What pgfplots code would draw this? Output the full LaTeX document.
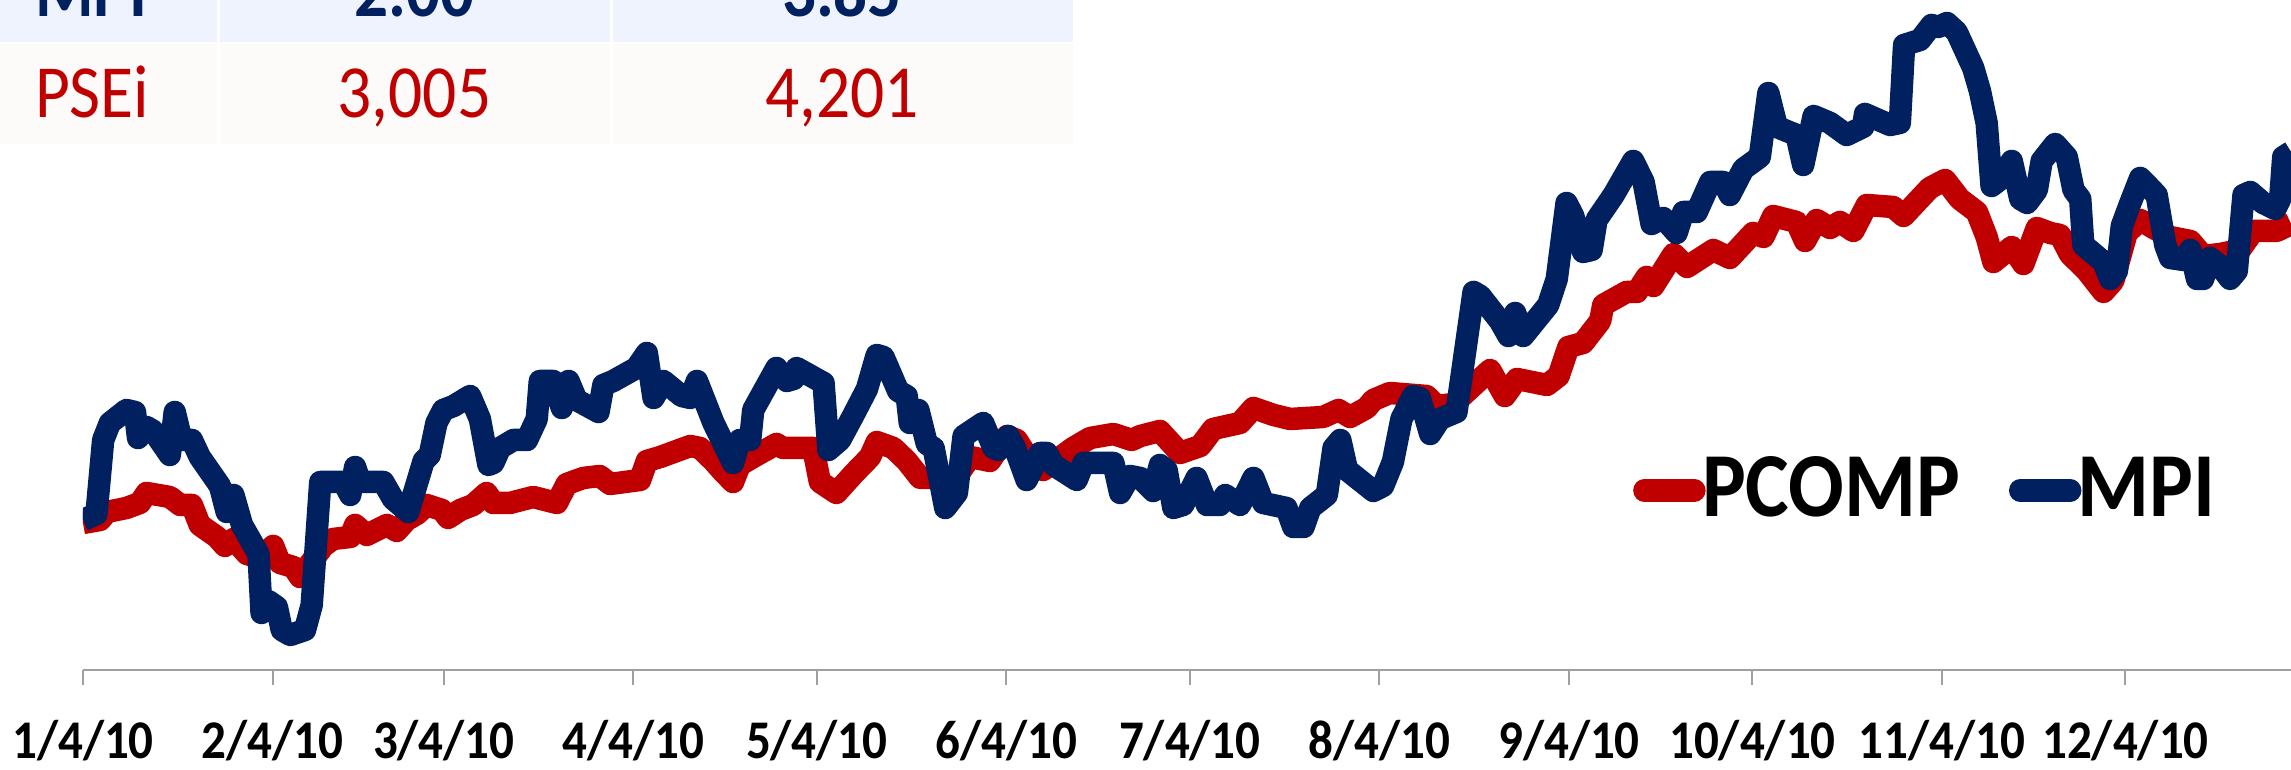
\documentclass[border=0pt]{standalone}
\usepackage{fontspec}
\setmainfont{Carlito}[FakeStretch=0.9]
\usepackage{pgfplots}
\pgfplotsset{compat=1.18}
\definecolor{pcompred}{RGB}{192,0,0}
\definecolor{mpinavy}{RGB}{0,32,96}
\definecolor{axisgray}{RGB}{160,160,160}
\definecolor{rowblue}{RGB}{238,243,254}
\definecolor{rowwhite}{RGB}{252,251,249}

\begin{document}
\begin{tikzpicture}
\useasboundingbox (0,0) rectangle (458.2pt,154pt);
\clip (0,0) rectangle (458.2pt,154pt);

% summary table (top row is cut off by the picture edge)
\fill[rowblue] (0pt,145.6pt) rectangle (43.4pt,160pt);
\fill[rowblue] (43.9pt,145.6pt) rectangle (122.0pt,160pt);
\fill[rowblue] (122.5pt,145.6pt) rectangle (214.6pt,160pt);
\fill[rowwhite] (0pt,125.2pt) rectangle (43.4pt,145.2pt);
\fill[rowwhite] (43.9pt,125.2pt) rectangle (122.0pt,145.2pt);
\fill[rowwhite] (122.5pt,125.2pt) rectangle (214.6pt,145.2pt);
\begin{scope}[every node/.style={inner sep=0pt}]
  \node[anchor=base west,font=\fontsize{14.9}{17}\selectfont\bfseries,text=mpinavy] at (6.8pt,150.6pt) {MPI};
  \node[anchor=base,font=\fontsize{14.9}{17}\selectfont\bfseries,text=mpinavy] at (82.9pt,150.6pt) {2.00};
  \node[anchor=base,font=\fontsize{14.9}{17}\selectfont\bfseries,text=mpinavy] at (168.4pt,150.6pt) {3.85};
  \node[anchor=base west,font=\fontsize{15}{17}\selectfont,text=pcompred] at (6.8pt,130.4pt) {PSEi};
  \node[anchor=base,font=\fontsize{15}{17}\selectfont,text=pcompred] at (82.9pt,130.4pt) {3,005};
  \node[anchor=base,font=\fontsize{15}{17}\selectfont,text=pcompred] at (168.4pt,130.4pt) {4,201};
\end{scope}

\begin{axis}[
  at={(16.6pt,20pt)},
  anchor=south west,
  scale only axis,
  width=441.6pt,
  height=134pt,
  xmin=0, xmax=361.07,
  ymin=100, ymax=770,
  axis x line=bottom,
  axis y line=none,
  x axis line style={-,draw=axisgray,line width=0.5pt},
  tick align=outside,
  major tick length=3pt,
  tick style={axisgray,line width=0.4pt},
  xtick={0,31,59,90,120,151,181,212,243,273,304,334},
  xticklabels={1/4/10,2/4/10,3/4/10,4/4/10,5/4/10,6/4/10,7/4/10,8/4/10,9/4/10,10/4/10,11/4/10,12/4/10},
  xticklabel style={font=\fontsize{10.9}{12}\selectfont\bfseries,anchor=base,yshift=-14.8pt},
  ytick=\empty,
  legend image code/.code={\draw[#1,line cap=round] (0pt,0pt) -- (10pt,0pt);},
  legend columns=-1,
  legend style={
    at={(0.7016,0.268)},
    anchor=west,
    draw=none,
    fill=none,
    inner sep=0pt,
    nodes={inner sep=0pt},
    font=\fontsize{18.3}{21}\selectfont\bfseries,
    /tikz/every odd column/.append style={column sep=-0.7pt},
    /tikz/every even column/.append style={column sep=9.7pt},
  },
]
% days since 4 Jan 2010 vs. chart height (no y scale is shown)
\addplot[pcompred,line width=4.5pt,line join=round] coordinates {
(0,247) (2.8,250) (3.9,258) (7.1,262) (9.3,267) (10.4,277) (14.2,273) (15.9,265)
(17.8,265) (19.1,245) (21.9,233) (23.2,224) (24.6,231) (26.8,216) (28.9,212) (31.1,224)
(32.2,207) (34.4,203) (35.5,193) (39.3,224) (40.9,231) (43.7,233) (44.5,245) (46.4,235)
(49.7,245) (51.3,239) (52.9,250) (54.6,256) (56.2,265) (58.7,260) (59.7,252) (61.7,260)
(63.8,265) (66.0,277) (67.1,267) (69.8,267) (73.6,273) (77.5,267) (79.1,286) (81.8,292)
(84.5,294) (86.2,286) (91.1,290) (92.2,309) (94.4,313) (99.3,324) (100.9,322) (103.1,309)
(104.7,298) (106.3,288) (107.4,305) (109.6,313) (113.4,326) (114.5,322) (119.4,322) (120.5,288)
(123.2,277) (126.0,296) (128.7,313) (129.8,328) (132.5,322) (134.7,309) (136.9,292) (139.1,292)
(141.8,284) (145.1,313) (148.3,309) (151.1,334) (152.7,330) (154.9,309) (157.0,300) (161.9,322)
(164.7,332) (168.5,336) (171.5,330) (172.9,334) (176.1,339) (179.4,317) (182.7,324) (184.8,341)
(189.2,347) (191.4,362) (194.7,355) (197.4,351) (202.8,353) (205.3,360) (207.2,353) (209.9,362)
(211.0,370) (213.7,377) (219.7,374) (221.4,364) (224.1,366) (230.1,400) (232.5,374) (234.5,391)
(239.4,385) (241.3,394) (242.9,423) (245.3,427) (248.1,449) (248.6,465) (252.4,478) (254.1,478)
(255.7,493) (256.8,484) (260.1,516) (262.3,503) (266.6,520) (269.3,512) (273.1,537) (274.8,533)
(276.4,554) (280.2,548) (281.6,529) (283.5,550) (285.7,542) (287.3,548) (289.5,539) (291.7,565)
(296.0,563) (297.7,554) (302.0,582) (304.5,590) (306.9,571) (309.7,558) (311.3,533) (312.4,508)
(315.4,523) (317.3,506) (319.5,542) (321.7,537) (323.3,535) (324.9,516) (327.7,499) (330.4,478)
(332.0,489) (334.2,537) (336.4,550) (338.6,542) (341.3,533) (344.6,529) (346.7,514) (349.5,516)
(352.7,520) (354.9,539) (358.7,539) (361.1,546)
};
\addlegendentry{PCOMP}
\addplot[mpinavy,line width=4.5pt,line join=round] coordinates {
(0,250) (2.2,256) (3.3,330) (4.4,347) (7.1,360) (8.5,358) (9.0,332) (10.4,343)
(11.5,339) (14.2,315) (15.0,358) (16.1,330) (17.8,330) (19.1,313) (22.4,284) (23.5,258)
(24.6,275) (26.0,245) (28.7,216) (29.2,157) (30.3,169) (31.7,163) (32.5,140) (33.9,135)
(36.3,140) (37.4,165) (38.8,288) (42.6,288) (43.7,275) (44.5,303) (45.3,288) (49.1,288)
(50.7,271) (53.2,258) (55.7,309) (56.7,315) (57.8,347) (58.9,360) (60.6,364) (63.3,374)
(64.9,351) (66.3,305) (67.1,307) (68.2,322) (70.4,330) (72.6,330) (74.2,351) (74.7,389)
(76.9,389) (78.3,362) (79.4,389) (80.7,370) (84.3,358) (85.1,385) (86.7,389) (90.5,402)
(92.2,417) (93.3,372) (94.9,389) (97.9,374) (99.3,372) (100.4,389) (103.1,347) (106.3,307)
(107.4,330) (109.1,330) (109.6,360) (113.4,402) (115.1,389) (116.2,391) (116.7,402) (121.1,387)
(121.9,320) (123.8,330) (126.0,355) (128.2,381) (129.8,415) (130.9,413) (133.3,379) (134.7,374)
(135.2,347) (136.6,360) (138.0,326) (139.1,322) (141.0,262) (142.9,277) (144.0,334) (147.2,347)
(148.9,322) (149.7,320) (151.3,334) (152.4,322) (154.3,290) (156.5,317) (157.6,317) (158.7,305)
(162.5,290) (163.6,307) (168.5,307) (169.6,277) (171.2,294) (172.9,292) (175.0,279) (176.1,305)
(177.2,300) (178.3,262) (179.9,265) (182.1,292) (183.8,265) (185.9,265) (186.8,275) (189.2,265)
(191.4,292) (193.0,267) (196.8,262) (197.9,243) (199.6,243) (200.7,262) (203.4,275) (204.5,322)
(205.6,330) (206.7,300) (211.0,279) (212.6,284) (214.2,308) (215.6,351) (217.5,374) (218.6,372)
(220.3,336) (221.9,351) (224.6,358) (227.4,478) (228.5,474) (231.7,449) (233.1,434) (234.2,457)
(235.5,434) (239.6,465) (241.0,491) (242.6,567) (243.7,554) (245.3,518) (246.7,520) (247.5,550)
(250.3,575) (253.5,609) (255.2,588) (256.5,546) (258.4,552) (260.6,537) (261.7,558) (263.9,558)
(266.1,588) (268.2,588) (269.3,575) (271.5,601) (274.2,613) (275.6,677) (277.0,643) (280.2,635)
(281.3,605) (283.0,654) (285.7,647) (288.4,635) (291.1,643) (291.4,656) (295.5,645) (297.1,647)
(297.8,725) (300.4,730) (302.3,745) (303.4,743) (304.8,747) (306.4,738) (309.1,702) (310.2,679)
(311.3,647) (312.1,584) (313.8,592) (315.4,609) (316.8,571) (317.9,567) (319.5,580) (320.3,609)
(322.5,626) (324.4,613) (325.5,580) (326.6,571) (327.1,525) (330.4,508) (331.5,491) (332.6,499)
(333.4,544) (334.8,567) (336.4,592) (337.7,584) (339.1,575) (340.5,525) (341.3,512) (343.5,510)
(344.6,520) (345.7,491) (346.7,491) (347.8,512) (349.5,504) (351.1,491) (352.2,499) (353.3,575)
(354.4,578) (356.5,567) (358.5,561) (359.3,571) (359.8,613) (361.1,618)
};
\addlegendentry{MPI}
\end{axis}
\end{tikzpicture}
\end{document}
